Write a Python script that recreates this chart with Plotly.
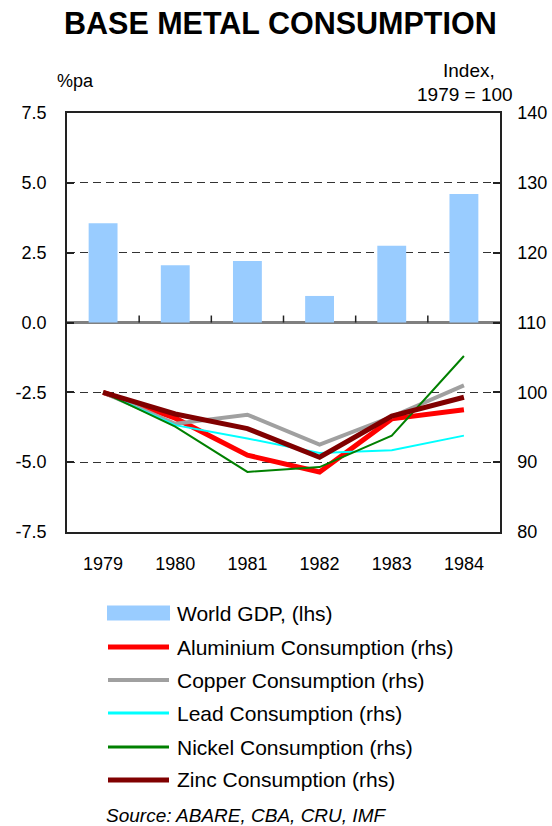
import plotly.graph_objects as go

# ---- data ----
years = ["1979", "1980", "1981", "1982", "1983", "1984"]
world_gdp = [3.55, 2.05, 2.2, 0.95, 2.75, 4.6]          # %pa, left axis
aluminium = [100, 96.3, 91.0, 88.6, 96.2, 97.5]          # index, right axis
copper = [100, 95.5, 96.8, 92.5, 96.5, 101.0]
lead = [100, 95.3, 93.4, 91.3, 91.7, 93.8]
nickel = [100, 95.1, 88.6, 89.3, 93.8, 105.2]
zinc = [100, 96.9, 94.8, 90.7, 96.6, 99.3]

left_ticks = [-7.5, -5.0, -2.5, 0.0, 2.5, 5.0, 7.5]
right_ticks = [80, 90, 100, 110, 120, 130, 140]

series = [
    ("Aluminium Consumption (rhs)", aluminium, "#FF0000", 5),
    ("Copper Consumption (rhs)", copper, "#A0A0A0", 4),
    ("Lead Consumption (rhs)", lead, "#00FFFF", 2),
    ("Nickel Consumption (rhs)", nickel, "#008000", 2),
    ("Zinc Consumption (rhs)", zinc, "#800000", 5),
]
bar_name = "World GDP, (lhs)"
bar_color = "#99CCFF"

FONT = "Liberation Sans, Arial, sans-serif"

# plot-area geometry in pixels
W_FIG, H_FIG = 552, 826
L, R, T, B = 67, 500, 113, 532
PW, PH = R - L, B - T


def fx(x):
    return (x - L) / PW


def fy(y):
    return (B - y) / PH


fig = go.Figure()

fig.add_trace(go.Bar(
    x=years, y=world_gdp, name=bar_name, marker=dict(color=bar_color, line=dict(width=0)),
    width=0.4, yaxis="y", showlegend=False,
))

for name, vals, color, w in series:
    fig.add_trace(go.Scatter(
        x=years, y=vals, name=name, mode="lines", yaxis="y2",
        line=dict(color=color, width=w), showlegend=False,
    ))

shapes = []
# category boundary ticks on the zero line
for i in range(1, len(years)):
    shapes.append(dict(type="line", xref="x", yref="y", x0=i - 0.5, x1=i - 0.5,
                       y0=0, y1=0.25, line=dict(color="#222", width=1.5), layer="above"))

# legend
legend_rows = [613, 647, 680, 713, 747, 780]
annotations = []
shapes.append(dict(type="rect", xref="paper", yref="paper",
                   x0=fx(107), x1=fx(170), y0=fy(legend_rows[0] + 7.5), y1=fy(legend_rows[0] - 7.5),
                   fillcolor=bar_color, line=dict(width=0)))
annotations.append(dict(text=bar_name, x=fx(175), y=fy(legend_rows[0]), xref="paper", yref="paper",
                        xanchor="left", yanchor="middle", showarrow=False,
                        font=dict(family=FONT, size=21, color="black")))
for (name, vals, color, w), ry in zip(series, legend_rows[1:]):
    shapes.append(dict(type="line", xref="paper", yref="paper",
                       x0=fx(108), x1=fx(169), y0=fy(ry), y1=fy(ry),
                       line=dict(color=color, width=w if w > 2 else 3)))
    annotations.append(dict(text=name, x=fx(175), y=fy(ry), xref="paper", yref="paper",
                            xanchor="left", yanchor="middle", showarrow=False,
                            font=dict(family=FONT, size=21, color="black")))

# title, axis captions, source
annotations += [
    dict(text="<b>BASE METAL CONSUMPTION</b>", x=fx(280), y=fy(23), xref="paper", yref="paper",
         xanchor="center", yanchor="middle", showarrow=False,
         font=dict(family=FONT, size=30.5, color="black")),
    dict(text="%pa", x=fx(75), y=fy(81), xref="paper", yref="paper",
         xanchor="center", yanchor="middle", showarrow=False,
         font=dict(family=FONT, size=18, color="black")),
    dict(text="Index,", x=fx(469), y=fy(70), xref="paper", yref="paper",
         xanchor="center", yanchor="middle", showarrow=False,
         font=dict(family=FONT, size=19, color="black")),
    dict(text="1979 = 100", x=fx(465), y=fy(94), xref="paper", yref="paper",
         xanchor="center", yanchor="middle", showarrow=False,
         font=dict(family=FONT, size=19, color="black")),
    dict(text="<i>Source: ABARE, CBA, CRU, IMF</i>", x=fx(104), y=fy(815), xref="paper", yref="paper",
         xanchor="left", yanchor="middle", showarrow=False,
         font=dict(family=FONT, size=19, color="black")),
]

fig.update_layout(
    width=W_FIG, height=H_FIG,
    margin=dict(l=L, r=W_FIG - R, t=T, b=H_FIG - B, pad=0, autoexpand=False),
    paper_bgcolor="white", plot_bgcolor="white",
    font=dict(family=FONT, size=18, color="black"),
    bargap=0.6,
    shapes=shapes, annotations=annotations,
    xaxis=dict(type="category", range=[-0.5, len(years) - 0.5], automargin=False,
               showline=True, mirror=True, linecolor="#222", linewidth=1.5,
               ticks="", showgrid=False, ticklabelstandoff=15,
               tickfont=dict(family=FONT, size=18, color="black")),
    yaxis=dict(range=[-7.5, 7.5], tickvals=left_ticks, automargin=False,
               ticktext=[f"{v:.1f}" for v in left_ticks],
               showline=True, linecolor="#222", linewidth=1.5,
               ticks="inside", ticklen=7, tickcolor="#222", tickwidth=1.5,
               showgrid=True, gridcolor="#333", griddash="8px,5px", gridwidth=1,
               zeroline=True, zerolinecolor="#808080", zerolinewidth=2.5,
               ticklabelstandoff=15,
               tickfont=dict(family=FONT, size=18, color="black")),
    yaxis2=dict(range=[80, 140], tickvals=right_ticks, overlaying="y", side="right",
                automargin=False,
                showline=True, linecolor="#222", linewidth=1.5,
                ticks="inside", ticklen=7, tickcolor="#222", tickwidth=1.5,
                showgrid=False, zeroline=False, ticklabelstandoff=12,
                tickfont=dict(family=FONT, size=18, color="black")),
)

fig.write_html("out.html")
